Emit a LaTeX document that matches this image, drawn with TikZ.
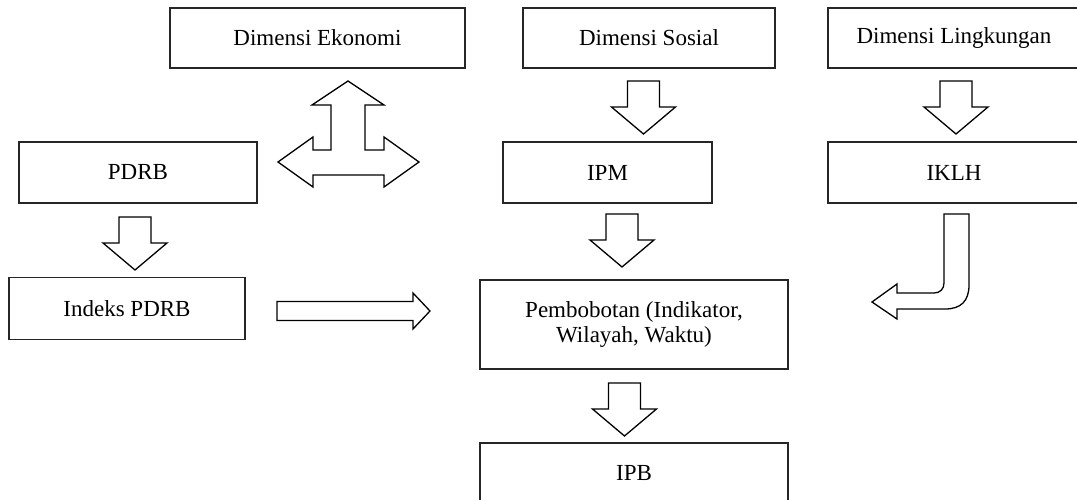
\documentclass[tikz,border=0pt]{standalone}
\usepackage{fontspec}
\setmainfont{Liberation Serif}
\usepackage{tikz}
\usetikzlibrary{positioning}

\tikzset{
  kotak/.style={draw=black!85, line width=1.8pt, inner sep=0pt, align=center,
    font=\fontsize{23}{25}\selectfont},
  panah/.style={draw=black, line width=1.3pt, fill=white, line join=miter},
  pics/turun/.style={code={
    \draw[panah] (-16,0) -- (16,0) -- (16,26) -- (32,26) -- (0,53)
      -- (-32,26) -- (-16,26) -- cycle;
  }}
}

\begin{document}
\begin{tikzpicture}[x=1pt,y=-1pt]
\useasboundingbox (0,0) rectangle (1077,500);

% baris atas
\node[kotak, minimum width=295pt, minimum height=60pt] (ekonomi) at (317.5,38) {Dimensi Ekonomi};
\node[kotak, minimum width=252pt, minimum height=60pt] (sosial) at (649,38) {Dimensi Sosial};
\node[kotak, minimum width=252pt, minimum height=60pt] (lingkungan) at (954,38) {Dimensi Lingkungan};

% baris indikator
\node[kotak, minimum width=238pt, minimum height=61pt] (pdrb) at (138,172.5) {PDRB};
\node[kotak, minimum width=209pt, minimum height=61pt] (ipm) at (607.5,172.5) {IPM};
\node[kotak, minimum width=252pt, minimum height=61pt] (iklh) at (954,172.5) {IKLH};

\node[kotak, minimum width=236pt, minimum height=62pt] (indeks) at (127,308.5) {Indeks PDRB};
\node[kotak, minimum width=308pt, minimum height=89pt] (bobot) at (634,324.5) {Pembobotan (Indikator,\\Wilayah, Waktu)};
\node[kotak, minimum width=308pt, minimum height=60pt] (ipb) at (634,473) {IPB};

% panah blok ke bawah
\pic at (135,217) {turun};
\pic at (643.5,81) {turun};
\pic at (956,81) {turun};
\pic at (622,214) {turun};
\pic at (624.5,383) {turun};

% panah tiga arah
\draw[panah] (348,81) -- (384,105) -- (365,105) -- (365,150) -- (384,150)
  -- (384,137) -- (419,162) -- (384,187) -- (384,175) -- (313,175)
  -- (313,187) -- (278,162) -- (313,137) -- (313,150) -- (331,150)
  -- (331,105) -- (312,105) -- cycle;

% panah ke kanan
\draw[panah] (277,301.5) -- (413,301.5) -- (413,293) -- (430,311)
  -- (413,329) -- (413,320.5) -- (277,320.5) -- cycle;

% panah lengkung
\draw[panah] (944,214) -- (969,214) -- (969,285)
  .. controls (969,301) and (961,309) .. (945,309) -- (897,309)
  -- (897,319) -- (872,302) -- (897,284) -- (897,293) -- (934,293)
  .. controls (940,293) and (944,289) .. (944,283) -- cycle;
\end{tikzpicture}
\end{document}
